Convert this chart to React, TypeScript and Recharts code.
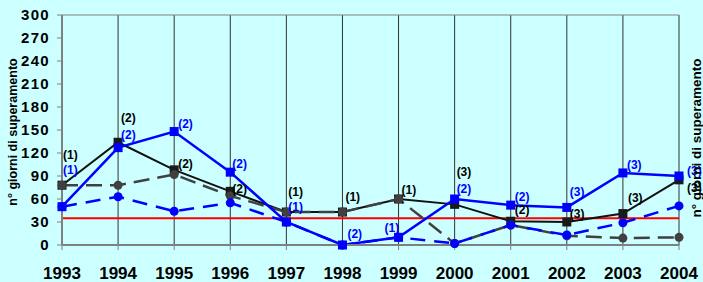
import {
  LineChart, Line, XAxis, YAxis, CartesianGrid, ReferenceLine, LabelList,
} from 'recharts'

const YEARS = ['1993', '1994', '1995', '1996', '1997', '1998', '1999', '2000', '2001', '2002', '2003', '2004']
const SOLID_BLACK = [78, 134, 98, 70, 43, 43, 60, 53, 31, 30, 41, 85]
const SOLID_BLUE = [50, 127, 148, 95, 30, 0, 10, 60, 52, 49, 94, 90]
const DASHED_GREY = [78, 78, 92, 64, 43, 43, 60, 2, 26, 12, 9, 10]
const DASHED_BLUE = [50, 63, 44, 55, 30, 0, 10, 2, 26, 13, 29, 51]
const LABELS_BLACK = ['(1)', '(2)', '(2)', '(2)', '(1)', '(1)', '(1)', '(3)', '(2)', '(3)', '(3)', '(3)']
const LABELS_BLUE = ['(1)', '(2)', '(2)', '(2)', '(1)', '(2)', '(1)', '(2)', '(2)', '(3)', '(3)', '(3)']
const Y_TICKS = [0, 30, 60, 90, 120, 150, 180, 210, 240, 270, 300]
const LIMIT = 35

// label offsets from the point (dx, dy), per year
const OFF_BLACK = [[1, -30], [3, -24], [4, -6], [2, -2], [2, -20], [3, -15], [3, -9], [2, -32], [4, -11], [3, -8], [5, -16], [8, 8]]
const OFF_BLUE = [[1, -37], [3, -13], [4, -8], [2, -8], [2, -15], [5, -11], [-14, -9], [2, -10], [4, -8], [3, -15], [4, -8], [8, -5]]

const FONT = '"Liberation Sans", Arial, sans-serif'
const BG = '#ccffff'

const data = YEARS.map((year, i) => ({
  year,
  black: SOLID_BLACK[i],
  blue: SOLID_BLUE[i],
  grey: DASHED_GREY[i],
  blueDash: DASHED_BLUE[i],
  labBlack: LABELS_BLACK[i],
  labBlue: LABELS_BLUE[i],
}))

const square = (fill: string) => (p: any) => (
  <rect key={`sq-${fill}-${p.index}`} x={p.cx - 4.5} y={p.cy - 4.5} width={9} height={9} fill={fill} />
)

const makeLabel = (color: string, offs: number[][]) => (p: any) => {
  const [dx, dy] = offs[p.index] || [0, 0]
  return (
    <text
      key={`lb-${color}-${p.index}`}
      x={p.x + dx}
      y={p.y + dy}
      dominantBaseline="central"
      fontFamily={FONT}
      fontWeight="bold"
      fontSize={12}
      fill={color}
    >
      {p.value}
    </text>
  )
}

export default function App() {
  return (
    <div style={{ position: 'absolute', left: 0, top: 0, width: 703, height: 282, background: BG, overflow: 'hidden' }}>
      <LineChart width={703} height={282} data={data} margin={{ top: 15, right: 24, bottom: 7, left: 22 }}>
        <CartesianGrid horizontal={false} stroke="#333333" strokeWidth={1} />
        <ReferenceLine y={300} stroke="#808080" strokeWidth={1} />
        <XAxis
          dataKey="year"
          tickSize={5}
          tickMargin={17}
          height={30}
          axisLine={{ stroke: '#808080', strokeWidth: 2 }}
          tickLine={{ stroke: '#808080' }}
          tick={{ fill: '#000', fontFamily: FONT, fontWeight: 'bold', fontSize: 17 }}
          interval={0}
        />
        <YAxis
          domain={[0, 300]}
          ticks={Y_TICKS}
          width={40}
          tickSize={5}
          tickMargin={7}
          axisLine={{ stroke: '#808080', strokeWidth: 2 }}
          tickLine={{ stroke: '#808080' }}
          tick={{ fill: '#000', fontFamily: FONT, fontWeight: 'bold', fontSize: 15, letterSpacing: 1.3 }}
          interval={0}
        />
        <ReferenceLine y={LIMIT} stroke="#ff0000" strokeWidth={2} />
        <Line
          dataKey="black"
          stroke="#111111"
          strokeWidth={2}
          dot={square('#1a1a1a')}
          isAnimationActive={false}
        >
          <LabelList dataKey="labBlack" content={makeLabel('#000000', OFF_BLACK)} />
        </Line>
        <Line
          dataKey="grey"
          stroke="#404040"
          strokeWidth={2.5}
          strokeDasharray="16 8"
          dot={{ r: 4.5, fill: '#404040', stroke: 'none' }}
          isAnimationActive={false}
        />
        <Line
          dataKey="blueDash"
          stroke="#0000ff"
          strokeWidth={2.5}
          strokeDasharray="15 9"
          dot={{ r: 4.5, fill: '#0000ff', stroke: 'none' }}
          isAnimationActive={false}
        />
        <Line
          dataKey="blue"
          stroke="#0000ff"
          strokeWidth={2.5}
          dot={square('#0000ff')}
          isAnimationActive={false}
        >
          <LabelList dataKey="labBlue" content={makeLabel('#0000ff', OFF_BLUE)} />
        </Line>
      </LineChart>
      <svg width={703} height={282} style={{ position: 'absolute', left: 0, top: 0, pointerEvents: 'none' }}>
        <text
          transform="translate(17,132) rotate(-90)"
          textAnchor="middle"
          fontFamily={FONT}
          fontWeight="bold"
          fontSize={12.5}
          fill="#000"
        >
          n° giorni di superamento
        </text>
        <text
          transform="translate(701,138) rotate(-90)"
          textAnchor="middle"
          fontFamily={FONT}
          fontWeight="bold"
          fontSize={13.5}
          fill="#000"
        >
          n° giorni di superamento
        </text>
      </svg>
    </div>
  )
}
